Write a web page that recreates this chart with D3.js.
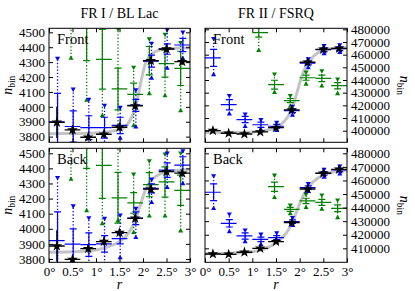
<!DOCTYPE html>
<html>
<head>
<meta charset="utf-8">
<script src="https://cdn.jsdelivr.net/npm/d3@7"></script>
<style>
  body { margin: 0; background: #fff; }
  svg { display: block; }
</style>
</head>
<body>
<div id="chart"></div>
<script>
// bin centres in degrees, each bin is 1/3 deg wide
const binX = [0.167, 0.5, 0.833, 1.167, 1.5, 1.833, 2.167, 2.5, 2.833]
const binHalf = 0.167
const xTicks = [0, 0.5, 1, 1.5, 2, 2.5, 3]
const xTickLabels = ['0°', '0.5°', '1°', '1.5°', '2°', '2.5°', '3°']
const leftTicks = [3800, 3900, 4000, 4100, 4200, 4300, 4400, 4500]
const rightTicksFront = [400000, 410000, 420000, 430000, 440000, 450000, 460000, 470000, 480000]
const rightTicksBack = [410000, 420000, 430000, 440000, 450000, 460000, 470000, 480000]

// grey fitted curve at these r values
const curveX = [0, 0.5, 1.0, 1.25, 1.5, 1.65, 1.75, 1.85, 1.95, 2.05, 2.15, 2.3, 2.5, 2.75, 3.0]

// ---- FR I / BL Lac, front ----
const fr1FrontCurve = [3820, 3821, 3825, 3832, 3848, 3875, 3925, 4005, 4160, 4290, 4345, 4375, 4390, 4394, 4396]
const fr1FrontBlack = [3896, 3845, 3796, 3816, 3863, 4006, 4310, 4388, 4303]
const fr1FrontBlackErr = [105, 32, 22, 22, 22, 22, 22, 22, 22]
const fr1FrontBlue = [3900, 3868, 3860, 3860, 3875, 4010, 4307, 4388, 4415]
const fr1FrontBlueErr = [190, 105, 80, 70, 55, 40, 40, 35, 45]
const fr1FrontBlueLo = [3600, 3600, 3650, 3700, 3796, 3871, 4198, 4265, 4330]
const fr1FrontBlueHi = [4319, 4113, 4045, 4005, 3990, 4108, 4421, 4511, 4495]
const fr1FrontGreen = [null, 4800, 4620, 4319, 4120, 4084, 4310, 4290, 4258]
const fr1FrontGreenErr = [null, 200, 310, 200, 140, 75, 95, 90, 115]
const fr1FrontGreenLo = [null, 4332, 4050, 3947, 3880, 3880, 4095, 4080, 3980]
const fr1FrontGreenHi = [null, 5000, 5000, 4700, 4516, 4260, 4450, 4480, 4426]

// ---- FR I / BL Lac, back ----
const fr1BackCurve = [3845, 3848, 3860, 3880, 3915, 3955, 4000, 4065, 4165, 4255, 4310, 4352, 4376, 4387, 4392]
const fr1BackBlack = [3886, 3797, 3868, 3915, 3975, 4069, 4262, 4378, 4368]
const fr1BackBlackErr = [105, 30, 25, 25, 22, 22, 22, 22, 22]
const fr1BackBlue = [3922, 3899, 3895, 3900, 3935, 4070, 4268, 4389, 4422]
const fr1BackBlueErr = [190, 100, 78, 55, 35, 42, 30, 48, 55]
const fr1BackBlueLo = [3600, 3650, 3700, 3770, 3815, 3948, 4180, 4279, 4305]
const fr1BackBlueHi = [4334, 4146, 4067, 4063, 4085, 4129, 4323, 4495, 4510]
const fr1BackGreen = [null, 4800, 4650, 4420, 4205, 4171, 4292, 4310, 4255]
const fr1BackGreenErr = [null, 200, 250, 218, 168, 68, 80, 100, 100]
const fr1BackGreenLo = [null, 4334, 4125, 4040, 4060, 3981, 4091, 4091, 3992]
const fr1BackGreenHi = [null, 5000, 5000, 4800, 4600, 4356, 4444, 4489, 4496]

// ---- FR II / FSRQ, front ----
const fr2FrontCurve = [398500, 398600, 399000, 400000, 402500, 406500, 411000, 418500, 431000, 443500, 452000, 459000, 463500, 465000, 465500]
const fr2FrontBlack = [400100, 398000, 397400, 399000, 402400, 416400, 454000, 464200, 465000]
const fr2FrontBlackErr = [700, 700, 700, 700, 800, 900, 1000, 1000, 1000]
const fr2FrontBlue = [457500, 420500, 408800, 404700, 403500, 415800, 453400, 463900, 464700]
const fr2FrontBlueErr = [6700, 4000, 2500, 2000, 1500, 1500, 1500, 1500, 1500]
const fr2FrontBlueLo = [445000, 414000, 404000, 401500, 401000, 413000, 450500, 461500, 462500]
const fr2FrontBlueHi = [472000, 427000, 412500, 408000, 406000, 418500, 456000, 466500, 467000]
const fr2FrontGreen = [null, null, null, 477400, 436300, 423800, 441800, 441300, 435500]
const fr2FrontGreenErr = [null, null, null, 3500, 3500, 1600, 2000, 2500, 2500]
const fr2FrontGreenLo = [null, null, null, 464000, 430800, 420000, 437500, 436000, 430000]
const fr2FrontGreenHi = [null, null, null, 490000, 444000, 427000, 445500, 446500, 440000]

// ---- FR II / FSRQ, back ----
const fr2BackCurve = [406000, 406300, 407500, 409500, 414000, 418500, 423000, 429500, 438500, 447000, 453500, 459500, 464000, 466500, 467500]
const fr2BackBlack = [405800, 405600, 407100, 410000, 414900, 428900, 453700, 465300, 468200]
const fr2BackBlackErr = [700, 700, 700, 800, 800, 900, 1000, 1000, 1000]
const fr2BackBlue = [451300, 428400, 419100, 416600, 417900, 429700, 454700, 465300, 467700]
const fr2BackBlueErr = [6200, 2700, 2300, 1700, 1500, 1300, 1300, 1300, 1300]
const fr2BackBlueLo = [440000, 423000, 415600, 413500, 415000, 427500, 452500, 463000, 465500]
const fr2BackBlueHi = [462800, 434600, 422800, 419800, 420800, 432000, 457000, 467500, 470000]
const fr2BackGreen = [null, null, null, null, 455400, 438700, 444900, 443900, 439500]
const fr2BackGreenErr = [null, null, null, null, 3400, 1500, 2000, 2200, 2500]
const fr2BackGreenLo = [null, null, null, null, 448100, 436200, 440700, 439500, 433300]
const fr2BackGreenHi = [null, null, null, null, 463300, 441200, 449300, 448600, 444900]

const font = "'Liberation Serif', 'DejaVu Serif', serif"
const BLUE = '#0000ff', GREEN = '#008000'

const panels = [
  { x0: 49, x1: 190, y0: 28.3, y1: 142.3, domain: [3762, 4527], ticks: leftTicks, side: 'left', bottom: false, tag: 'Front',
    curve: fr1FrontCurve, black: [fr1FrontBlack, fr1FrontBlackErr],
    blue: [fr1FrontBlue, fr1FrontBlueErr, fr1FrontBlueLo, fr1FrontBlueHi],
    green: [fr1FrontGreen, fr1FrontGreenErr, fr1FrontGreenLo, fr1FrontGreenHi] },
  { x0: 205, x1: 347, y0: 28.3, y1: 142.3, domain: [390850, 480800], ticks: rightTicksFront, side: 'right', bottom: false, tag: 'Front',
    curve: fr2FrontCurve, black: [fr2FrontBlack, fr2FrontBlackErr],
    blue: [fr2FrontBlue, fr2FrontBlueErr, fr2FrontBlueLo, fr2FrontBlueHi],
    green: [fr2FrontGreen, fr2FrontGreenErr, fr2FrontGreenLo, fr2FrontGreenHi] },
  { x0: 49, x1: 190, y0: 148.3, y1: 262.3, domain: [3778, 4533], ticks: leftTicks, side: 'left', bottom: true, tag: 'Back',
    curve: fr1BackCurve, black: [fr1BackBlack, fr1BackBlackErr],
    blue: [fr1BackBlue, fr1BackBlueErr, fr1BackBlueLo, fr1BackBlueHi],
    green: [fr1BackGreen, fr1BackGreenErr, fr1BackGreenLo, fr1BackGreenHi] },
  { x0: 205, x1: 347, y0: 148.3, y1: 262.3, domain: [399700, 483700], ticks: rightTicksBack, side: 'right', bottom: true, tag: 'Back',
    curve: fr2BackCurve, black: [fr2BackBlack, fr2BackBlackErr],
    blue: [fr2BackBlue, fr2BackBlueErr, fr2BackBlueLo, fr2BackBlueHi],
    green: [fr2BackGreen, fr2BackGreenErr, fr2BackGreenLo, fr2BackGreenHi] },
]

const svg = d3.select('#chart').append('svg')
  .attr('width', 415).attr('height', 291)
  .style('font-family', font)

const triUp = d3.symbol().type(d3.symbolTriangle).size(11)
const star = d3.symbol().type(d3.symbolStar).size(36)

// one coloured series: dotted sys range with triangles, solid stat bar, horizontal bin bar
function drawSeries(g, x, y, s, color, dx) {
  const [c, e, lo, hi] = s
  binX.forEach((bx, i) => {
    if (c[i] == null) return
    const px = x(bx) + dx
    g.append('line')
      .attr('x1', px).attr('x2', px).attr('y1', y(lo[i])).attr('y2', y(hi[i]))
      .attr('stroke', color).attr('stroke-width', 1.3).attr('stroke-dasharray', '1.3,2')
    g.append('path').attr('d', triUp()).attr('fill', color)
      .attr('transform', `translate(${px},${y(lo[i]) + 1})`)
    g.append('path').attr('d', triUp()).attr('fill', color)
      .attr('transform', `translate(${px},${y(hi[i]) - 1}) rotate(180)`)
    g.append('line')
      .attr('x1', px).attr('x2', px).attr('y1', y(c[i] - e[i])).attr('y2', y(c[i] + e[i]))
      .attr('stroke', color).attr('stroke-width', 1.2)
    ;[c[i] - e[i], c[i] + e[i]].forEach(v => {
      g.append('line').attr('x1', px - 3.5).attr('x2', px + 3.5).attr('y1', y(v)).attr('y2', y(v))
        .attr('stroke', color).attr('stroke-width', 1.2)
    })
    g.append('line')
      .attr('x1', x(bx - binHalf)).attr('x2', x(bx + binHalf)).attr('y1', y(c[i])).attr('y2', y(c[i]))
      .attr('stroke', color).attr('stroke-width', 1.2)
  })
}

panels.forEach((p, k) => {
  const x = d3.scaleLinear().domain([0, 3]).range([p.x0, p.x1])
  const y = d3.scaleLinear().domain(p.domain).range([p.y1, p.y0])

  svg.append('clipPath').attr('id', 'clip' + k).append('rect')
    .attr('x', p.x0).attr('y', p.y0).attr('width', p.x1 - p.x0).attr('height', p.y1 - p.y0)
  const g = svg.append('g').attr('clip-path', `url(#clip${k})`)

  // grey fit
  g.append('path')
    .datum(curveX.map((d, j) => [d, p.curve[j]]))
    .attr('d', d3.line().x(d => x(d[0])).y(d => y(d[1])).curve(d3.curveMonotoneX))
    .attr('fill', 'none').attr('stroke', '#c4c4c4').attr('stroke-width', 3)
    .attr('stroke-linecap', 'round')

  drawSeries(g, x, y, p.green, GREEN, -1.5)
  drawSeries(g, x, y, p.blue, BLUE, 0.7)

  // black stars
  const [bv, be] = p.black
  binX.forEach((bx, i) => {
    g.append('line')
      .attr('x1', x(bx - binHalf)).attr('x2', x(bx + binHalf)).attr('y1', y(bv[i])).attr('y2', y(bv[i]))
      .attr('stroke', '#000').attr('stroke-width', 1.3)
    g.append('line')
      .attr('x1', x(bx)).attr('x2', x(bx)).attr('y1', y(bv[i] - be[i])).attr('y2', y(bv[i] + be[i]))
      .attr('stroke', '#000').attr('stroke-width', 1.3)
    g.append('path').attr('d', star()).attr('fill', '#000')
      .attr('transform', `translate(${x(bx)},${y(bv[i])})`)
  })

  // ticks on all four sides, pointing inwards
  const yl = svg.append('g').attr('transform', `translate(${p.x0},0)`)
    .call(d3.axisLeft(y).tickValues(p.ticks).tickSizeInner(-4).tickSizeOuter(0).tickPadding(4)
      .tickFormat(p.side === 'left' ? d3.format('d') : ''))
  const yr = svg.append('g').attr('transform', `translate(${p.x1},0)`)
    .call(d3.axisRight(y).tickValues(p.ticks).tickSizeInner(-4).tickSizeOuter(0).tickPadding(4)
      .tickFormat(p.side === 'right' ? d3.format('d') : ''))
  const xb = svg.append('g').attr('transform', `translate(0,${p.y1})`)
    .call(d3.axisBottom(x).tickValues(xTicks).tickSizeInner(-4).tickSizeOuter(0).tickPadding(4)
      .tickFormat((d, i) => p.bottom ? xTickLabels[i] : ''))
  const xt = svg.append('g').attr('transform', `translate(0,${p.y0})`)
    .call(d3.axisTop(x).tickValues(xTicks).tickSizeInner(-4).tickSizeOuter(0).tickFormat(''))
  ;[yl, yr, xb, xt].forEach(a => {
    a.select('.domain').remove()
    a.selectAll('line').attr('stroke', '#000')
    a.selectAll('text').attr('font-family', font).attr('font-size', 13).attr('fill', '#000')
  })

  svg.append('rect')
    .attr('x', p.x0).attr('y', p.y0).attr('width', p.x1 - p.x0).attr('height', p.y1 - p.y0)
    .attr('fill', 'none').attr('stroke', '#000').attr('stroke-width', 1)

  svg.append('text')
    .attr('x', p.x0 + 8).attr('y', p.y0 + 16)
    .attr('font-size', 14.5).text(p.tag)

  // n_bin axis label
  const cy = (p.y0 + p.y1) / 2
  const lab = svg.append('text')
    .attr('text-anchor', 'middle')
    .attr('transform', p.side === 'left' ? `translate(12,${cy}) rotate(-90)` : `translate(400,${cy}) rotate(90)`)
  lab.append('tspan').attr('font-style', 'italic').attr('font-size', 14).text('n')
  lab.append('tspan').attr('font-size', 9.5).attr('dy', 3).text('bin')

  if (p.bottom) {
    svg.append('text')
      .attr('x', (p.x0 + p.x1) / 2).attr('y', 289)
      .attr('text-anchor', 'middle').attr('font-style', 'italic').attr('font-size', 14)
      .text('r')
  }
})

// column titles
svg.append('text').attr('x', 119.5).attr('y', 18).attr('text-anchor', 'middle')
  .attr('font-size', 14).text('FR I / BL Lac')
svg.append('text').attr('x', 276).attr('y', 18).attr('text-anchor', 'middle')
  .attr('font-size', 14).text('FR II / FSRQ')
</script>
</body>
</html>
